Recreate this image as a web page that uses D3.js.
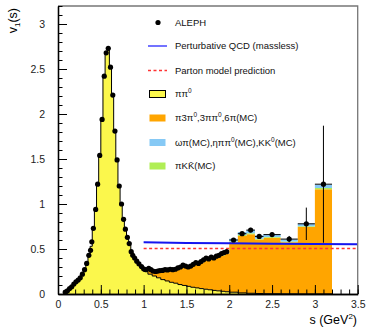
<!DOCTYPE html>
<html>
<head>
<meta charset="utf-8">
<script src="https://cdn.jsdelivr.net/npm/d3@7"></script>
<style>
  body { margin: 0; background: #fff; }
  svg text { font-family: "Liberation Sans", Arial, Helvetica, sans-serif; }
</style>
</head>
<body>
<svg id="chart" width="367" height="331"></svg>
<script>
// ALEPH points, dense part (errors too small to see)
const alephS = [0.085,0.11,0.135,0.16,0.185,0.21,0.235,0.26,0.285,0.31,0.335,0.36,0.38,0.395,0.413,0.44,0.463,0.487,0.515,0.54,0.563,0.587,0.613,0.64,0.665,0.69,0.715,0.742,0.766,0.787,0.81,0.832,0.855,0.873,0.895,0.92,0.945,0.975,
  1.0,1.03,1.06,1.085,1.11,1.14,1.165,1.19,1.22,1.25,1.28,1.31,1.34,1.37,1.40,1.43,1.46,1.49,1.52,1.55,1.58,1.61,1.64,1.67,1.70,1.73,1.76,1.79,1.82,1.85,1.88,1.91,1.94,1.97];
const alephV = [0.02,0.035,0.06,0.08,0.11,0.135,0.155,0.18,0.22,0.27,0.34,0.43,0.485,0.58,0.73,0.94,1.22,1.54,1.94,2.42,2.68,2.73,2.52,2.21,1.81,1.49,1.20,1.00,0.83,0.72,0.63,0.56,0.47,0.43,0.40,0.365,0.335,0.305,
  0.28,0.27,0.285,0.27,0.255,0.25,0.255,0.26,0.262,0.27,0.268,0.275,0.27,0.275,0.29,0.30,0.32,0.31,0.30,0.31,0.33,0.35,0.34,0.36,0.38,0.40,0.39,0.41,0.40,0.42,0.43,0.45,0.46,0.47];

// ALEPH points, wide bins with error bars
const binS    = [2.05,2.15,2.25,2.35,2.5,2.7,2.9,3.1];
const binV    = [0.60,0.67,0.71,0.64,0.66,0.61,0.78,1.22];
const binSErr = [0.05,0.05,0.05,0.05,0.1,0.1,0.1,0.1];
const binVErr = [0.02,0.02,0.025,0.02,0.02,0.035,0.18,0.65];

// pi pi0 histogram, fine bins
const fineEdges = [0.075,0.1,0.125,0.15,0.175,0.2,0.225,0.25,0.275,0.3,0.325,0.35,0.375,0.4,0.425,0.45,0.475,0.5,0.525,0.55,0.575,0.6,0.625,0.65,0.675,0.7,0.725,0.75,0.775,0.8,0.825,0.85,0.875,0.9,0.925,0.95,0.975,1.0];
const pipiFine = [0.02,0.04,0.06,0.09,0.11,0.14,0.16,0.19,0.23,0.28,0.35,0.43,0.53,0.73,0.93,1.22,1.54,1.94,2.42,2.68,2.73,2.52,2.21,1.81,1.49,1.20,1.00,0.83,0.72,0.63,0.55,0.47,0.42,0.38,0.34,0.31,0.285];

// coarse bins shared by the stacked MC
const coarseEdges = [1.0,1.05,1.1,1.15,1.2,1.25,1.3,1.35,1.4,1.45,1.5,1.55,1.6,1.65,1.7,1.75,1.8,1.85,1.9,1.95,2.0,2.1,2.2,2.3,2.4,2.6,2.8,3.0,3.2];
const pipiTail = [0.25,0.22,0.20,0.18,0.16,0.145,0.13,0.12,0.105,0.095,0.085,0.075,0.068,0.06,0.053,0.047,0.04,0.035,0.03,0.025,0.02,0.012,0.008,0.005,0.003,0.002,0.001,0.001];
const fourPi   = [0.012,0.049,0.05,0.072,0.096,0.117,0.135,0.15,0.178,0.203,0.207,0.235,0.261,0.287,0.32,0.335,0.351,0.375,0.399,0.422,0.555,0.633,0.657,0.60,0.622,0.573,0.744,1.164];
const kkPi     = [0,0,0,0.001,0.001,0.001,0.001,0.001,0.002,0.002,0.002,0.002,0.002,0.003,0.003,0.003,0.003,0.003,0.003,0.003,0.008,0.01,0.01,0.009,0.009,0.008,0.008,0.012];
const omegaPi  = [0,0.001,0.002,0.002,0.003,0.003,0.004,0.004,0.005,0.005,0.006,0.006,0.007,0.008,0.009,0.01,0.011,0.012,0.013,0.015,0.03,0.035,0.035,0.036,0.031,0.022,0.027,0.038];

// theory curves
const qcdS = [1.0,1.5,2.0,2.5,3.0,3.5];
const qcdV = [0.575,0.568,0.563,0.559,0.556,0.553];
const partonS = [1.0,3.5];
const partonV = [0.505,0.505];

const xTicks = [0,0.5,1,1.5,2,2.5,3,3.5];
const yTicks = [0,0.5,1,1.5,2,2.5,3];

const colors = {
    pipi: "#fbf74c",
    fourPi: "#ffa500",
    omegaPi: "#86c9f5",
    kkPi: "#b0ee55",
    qcd: "#1515f0",
    parton: "#ff3333"
};

let svg = d3.select("#chart");
let x = d3.scaleLinear().domain([0, 3.5]).range([58, 357.7]);
let y = d3.scaleLinear().domain([0, 3.2]).range([294, 6]);
let dotR = 2.6;

// turn bins into points for a step curve
function steps(edges, vals) {
    let pts = vals.map((v, i) => ({s: edges[i], v: v}));
    pts.push({s: edges[edges.length - 1], v: vals[vals.length - 1]});
    return pts;
}

// stacked MC (pipi at the bottom, drawn separately with outline)
let rows = coarseEdges.slice(0, -1).map((e, i) => ({
    pipi: pipiTail[i], fourPi: fourPi[i], kkPi: kkPi[i], omegaPi: omegaPi[i]
}));
let layers = d3.stack().keys(["pipi", "fourPi", "kkPi", "omegaPi"])(rows);

let stepArea = d3.area()
    .curve(d3.curveStepAfter)
    .x(d => x(d.s))
    .y0(d => y(d.y0))
    .y1(d => y(d.y1));

layers.slice(1).forEach(layer => {
    let pts = layer.map((d, i) => ({s: coarseEdges[i], y0: d[0], y1: d[1]}));
    let last = layer[layer.length - 1];
    pts.push({s: coarseEdges[coarseEdges.length - 1], y0: last[0], y1: last[1]});
    svg.append("path")
        .attr("d", stepArea(pts))
        .attr("fill", colors[layer.key])
        .attr("stroke", "none");
});

// pi pi0 histogram
let pipiEdges = fineEdges.concat(coarseEdges.slice(1));
let pipiVals = pipiFine.concat(pipiTail);
let pipiPts = steps(pipiEdges, pipiVals);

svg.append("path")
    .attr("d", d3.area().curve(d3.curveStepAfter).x(d => x(d.s)).y0(y(0)).y1(d => y(d.v))(pipiPts))
    .attr("fill", colors.pipi);

let outline = [{s: pipiEdges[0], v: 0}].concat(pipiPts).concat([{s: pipiEdges[pipiEdges.length - 1], v: 0}]);
svg.append("path")
    .attr("d", d3.line().curve(d3.curveStepAfter).x(d => x(d.s)).y(d => y(d.v))(outline))
    .attr("fill", "none")
    .attr("stroke", "#000")
    .attr("stroke-width", 1);

// theory lines
let lineGen = d3.line().x(d => x(d[0])).y(d => y(d[1]));
svg.append("path")
    .attr("d", lineGen(d3.zip(qcdS, qcdV)))
    .attr("fill", "none")
    .attr("stroke", colors.qcd)
    .attr("stroke-width", 2);
svg.append("path")
    .attr("d", lineGen(d3.zip(partonS, partonV)))
    .attr("fill", "none")
    .attr("stroke", colors.parton)
    .attr("stroke-width", 1.5)
    .attr("stroke-dasharray", "3,2.5");

// data
let pts = svg.append("g");
pts.selectAll("circle.dense")
    .data(d3.zip(alephS, alephV))
    .enter().append("circle")
    .attr("cx", d => x(d[0]))
    .attr("cy", d => y(d[1]))
    .attr("r", dotR)
    .attr("fill", "#000");

let bins = binS.map((s, i) => ({s: s, v: binV[i], ds: binSErr[i], dv: binVErr[i]}));
let eb = pts.selectAll("g.bin").data(bins).enter().append("g");
eb.append("line")
    .attr("x1", d => x(d.s - d.ds)).attr("x2", d => x(d.s + d.ds))
    .attr("y1", d => y(d.v)).attr("y2", d => y(d.v))
    .attr("stroke", "#000").attr("stroke-width", 1);
eb.append("line")
    .attr("x1", d => x(d.s)).attr("x2", d => x(d.s))
    .attr("y1", d => y(d.v - d.dv)).attr("y2", d => y(d.v + d.dv))
    .attr("stroke", "#000").attr("stroke-width", 1);
eb.append("circle")
    .attr("cx", d => x(d.s)).attr("cy", d => y(d.v))
    .attr("r", dotR).attr("fill", "#000");

// frame
svg.append("path")
    .attr("d", "M" + x(0) + "," + y(3.2) + "H" + x(3.5) + "V" + y(0))
    .attr("fill", "none")
    .attr("stroke", "#777")
    .attr("stroke-width", 1.3);

// axes
function styleAxis(g) {
    g.selectAll("path.domain").attr("stroke", "#000").attr("stroke-width", 1.3);
    g.selectAll(".tick line").attr("stroke", "#000");
    g.selectAll(".tick text").attr("font-size", "10.5px").attr("fill", "#222")
        .attr("font-family", "Liberation Sans, Arial, sans-serif");
}

svg.append("g")
    .attr("transform", "translate(0," + y(0) + ")")
    .call(d3.axisBottom(x).tickValues(d3.range(0, 3.51, 0.1)).tickSize(-4.5).tickSizeOuter(0).tickFormat(""))
    .call(styleAxis);
svg.append("g")
    .attr("transform", "translate(0," + y(0) + ")")
    .call(d3.axisBottom(x).tickValues(xTicks).tickSize(-9).tickSizeOuter(0).tickPadding(7).tickFormat(d3.format("")))
    .call(styleAxis);

svg.append("g")
    .attr("transform", "translate(" + x(0) + ",0)")
    .call(d3.axisLeft(y).tickValues(d3.range(0, 3.21, 0.1)).tickSize(-4.5).tickSizeOuter(0).tickFormat(""))
    .call(styleAxis);
svg.append("g")
    .attr("transform", "translate(" + x(0) + ",0)")
    .call(d3.axisLeft(y).tickValues(yTicks).tickSize(-9).tickSizeOuter(0).tickPadding(13).tickFormat(d3.format("")))
    .call(styleAxis);

// axis titles
let xt = svg.append("text")
    .attr("x", 357).attr("y", 324)
    .attr("text-anchor", "end")
    .attr("font-size", "12.5px");
xt.append("tspan").text("s (GeV");
xt.append("tspan").attr("font-size", "8px").attr("dy", -5).text("2");
xt.append("tspan").attr("dy", 5).text(")");

let yt = svg.append("text")
    .attr("transform", "translate(17,8) rotate(-90)")
    .attr("text-anchor", "end")
    .attr("font-size", "12.5px");
yt.append("tspan").text("v");
yt.append("tspan").attr("font-size", "8px").attr("dy", 3).text("1");
yt.append("tspan").attr("dy", -3).text("(s)");

// legend
let legend = svg.append("g").attr("font-size", "9.5px");
let rowY = [22.5, 46, 70.5, 94, 118, 142.5, 166];

legend.append("circle").attr("cx", 158).attr("cy", rowY[0]).attr("r", dotR).attr("fill", "#000");
legend.append("line").attr("x1", 148).attr("x2", 167).attr("y1", rowY[1]).attr("y2", rowY[1])
    .attr("stroke", "#4444ff").attr("stroke-width", 1.5);
legend.append("line").attr("x1", 148).attr("x2", 167).attr("y1", rowY[2]).attr("y2", rowY[2])
    .attr("stroke", colors.parton).attr("stroke-width", 1.5).attr("stroke-dasharray", "3,2.5");

let boxes = [
    {row: 3, fill: colors.pipi, stroke: "#000"},
    {row: 4, fill: colors.fourPi, stroke: "none"},
    {row: 5, fill: colors.omegaPi, stroke: "none"},
    {row: 6, fill: colors.kkPi, stroke: "none"}
];
legend.selectAll("rect").data(boxes).enter().append("rect")
    .attr("x", 149.5).attr("width", 16)
    .attr("y", d => rowY[d.row] - 3.5).attr("height", 7)
    .attr("fill", d => d.fill)
    .attr("stroke", d => d.stroke)
    .attr("stroke-width", 1);

// label pieces: [text, superscript?]
let labels = [
    [["ALEPH", false]],
    [["Perturbative QCD (massless)", false]],
    [["Parton model prediction", false]],
    [["\u03c0\u03c0", false], ["0", true]],
    [["\u03c03\u03c0", false], ["0", true], [",3\u03c0\u03c0", false], ["0", true], [",6\u03c0(MC)", false]],
    [["\u03c9\u03c0(MC),\u03b7\u03c0\u03c0", false], ["0", true], ["(MC),KK", false], ["0", true], ["(MC)", false]],
    [["\u03c0K", false], ["K\u0304", false], ["(MC)", false]]
];

labels.forEach((parts, i) => {
    let t = legend.append("text").attr("x", 175).attr("y", rowY[i] + 3.4).attr("fill", "#111");
    let up = false;
    parts.forEach(p => {
        let ts = t.append("tspan").text(p[0]);
        if (p[1]) {
            ts.attr("font-size", "6.5px").attr("dy", -4);
            up = true;
        } else if (up) {
            ts.attr("dy", 4);
            up = false;
        }
    });
});
</script>
</body>
</html>
